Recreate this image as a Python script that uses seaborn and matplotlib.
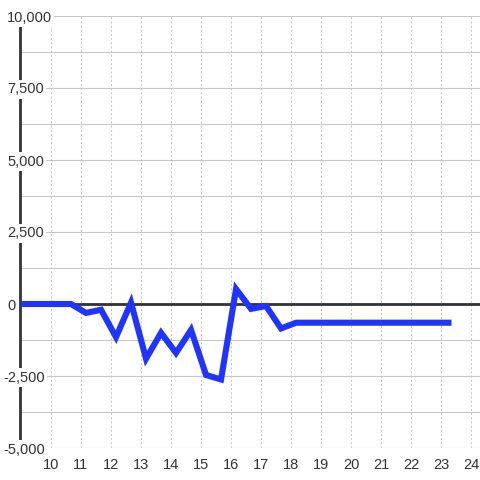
import seaborn as sns
import matplotlib.pyplot as plt
import matplotlib.transforms as mtransforms

# hour of day vs. value
hours = [9.0, 10.67, 11.17, 11.67, 12.17, 12.67, 13.17, 13.67, 14.17, 14.67,
         15.17, 15.67, 16.17, 16.67, 17.17, 17.67, 18.17, 23.35]
values = [0, 0, -310, -200, -1150, 50, -1900, -1000, -1700, -900,
          -2465, -2620, 520, -170, -70, -850, -650, -650]

x_ticks = list(range(10, 25))
y_ticks = [10000, 7500, 5000, 2500, 0, -2500, -5000]
y_labels = ['10,000', '7,500', '5,000', '2,500', '0', '-2,500', '-5,000']

sns.set_theme(style='white')
plt.rcParams['font.family'] = ['Liberation Sans', 'DejaVu Sans']

fig = plt.figure(figsize=(4.8, 4.8), dpi=100)
ax = fig.add_axes([20 / 480, 32 / 480, 460 / 480, 432 / 480])

sns.lineplot(x=hours, y=values, ax=ax, color='#2034ff', linewidth=4.4,
             zorder=4)
for ln in ax.lines:
    ln.set_solid_capstyle('butt')
    ln.set_solid_joinstyle('miter')

ax.set_xlim(8.97, 24.3)
ax.set_ylim(-5000, 10000)

# grid
for v in range(-5000, 10001, 1250):
    ax.axhline(v, color='#c8c8c8', lw=0.8, zorder=1)
for t in x_ticks:
    ax.axvline(t, color='#c8c8c8', lw=0.75, ls=(0, (2, 2)), zorder=1)
ax.axhline(0, color='#333333', lw=2, zorder=3)

for s in ['top', 'right', 'bottom']:
    ax.spines[s].set_visible(False)
ax.spines['left'].set_color('#333333')
ax.spines['left'].set_linewidth(2)
ax.spines['left'].set_zorder(3)

ax.set_xticks(x_ticks)
ax.set_xticklabels([str(t) for t in x_ticks], color='#333333', fontsize=10.5)
ax.tick_params(axis='x', length=0, pad=7)
ax.set_yticks([])

# y labels drawn over the spine with a white backing
for v, lab in zip(y_ticks, y_labels):
    px = 3 if lab.startswith('-') else 7
    tr = mtransforms.blended_transform_factory(fig.transFigure, ax.transData)
    ax.text(px / 480, v, lab, transform=tr, ha='left', va='center_baseline',
            fontsize=10.5, color='#333333', zorder=6,
            bbox=dict(facecolor='white', edgecolor='none', pad=1.5))

fig.savefig('out.png', dpi=100, facecolor='white')
